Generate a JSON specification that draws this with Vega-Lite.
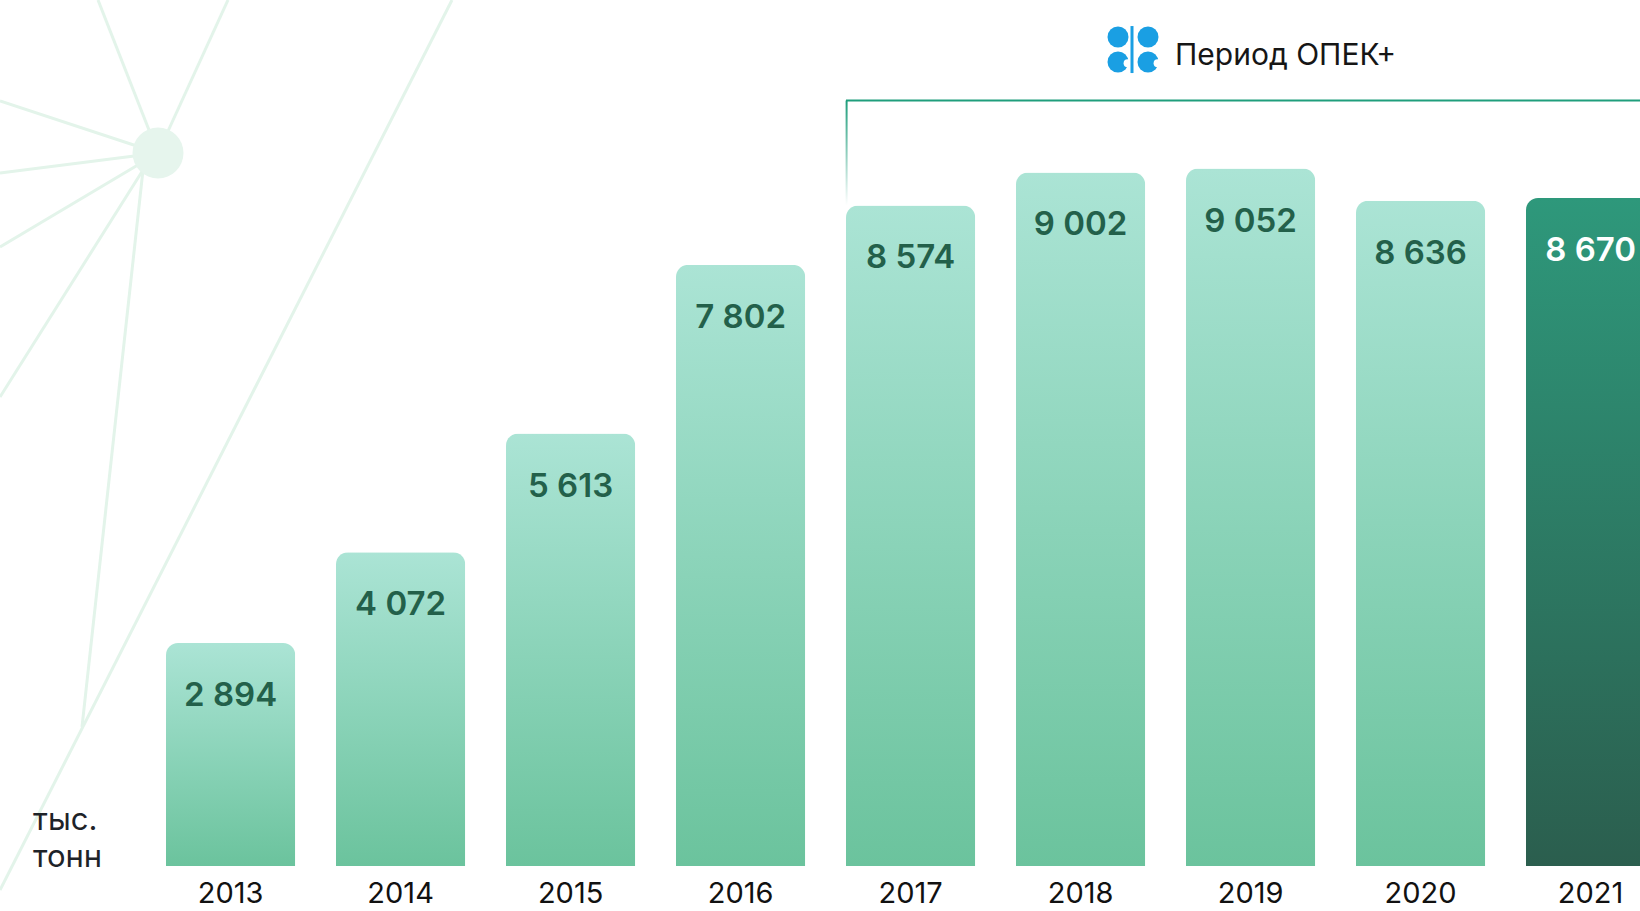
{
  "$schema": "https://vega.github.io/schema/vega-lite/v6.json",
  "width": 1640,
  "height": 866,
  "autosize": {"type": "none"},
  "padding": {"left": 0, "top": 0, "right": 0, "bottom": 45},
  "background": "white",
  "config": {
    "view": {"stroke": null},
    "font": "Inter",
    "locale": {"number": {"decimal": ",", "thousands": "\u00a0", "grouping": [3], "currency": ["", ""]}}
  },
  "datasets": {
    "bars": [
      {"year": "2013", "value": 2894},
      {"year": "2014", "value": 4072},
      {"year": "2015", "value": 5613},
      {"year": "2016", "value": 7802},
      {"year": "2017", "value": 8574},
      {"year": "2018", "value": 9002},
      {"year": "2019", "value": 9052},
      {"year": "2020", "value": 8636},
      {"year": "2021", "value": 8670}
    ],
    "decor": [
      {"seg": "a", "ord": 0, "bx": 98, "by": 0}, {"seg": "a", "ord": 1, "bx": 158, "by": 153},
      {"seg": "b", "ord": 0, "bx": 228, "by": 0}, {"seg": "b", "ord": 1, "bx": 158, "by": 153},
      {"seg": "c", "ord": 0, "bx": 0, "by": 101}, {"seg": "c", "ord": 1, "bx": 158, "by": 153},
      {"seg": "d", "ord": 0, "bx": 0, "by": 173}, {"seg": "d", "ord": 1, "bx": 158, "by": 153},
      {"seg": "e", "ord": 0, "bx": 0, "by": 247}, {"seg": "e", "ord": 1, "bx": 158, "by": 153},
      {"seg": "f", "ord": 0, "bx": 0, "by": 397}, {"seg": "f", "ord": 1, "bx": 143, "by": 170},
      {"seg": "g", "ord": 0, "bx": 82, "by": 727}, {"seg": "g", "ord": 1, "bx": 143, "by": 170},
      {"seg": "h", "ord": 0, "bx": 452, "by": 0}, {"seg": "h", "ord": 1, "bx": 0, "by": 890}
    ],
    "hub": [{"bx": 158, "by": 153}]
  },
  "resolve": {"scale": {"x": "independent", "y": "independent"}},
  "layer": [
    {
      "layer": [
        {
          "data": {"name": "decor"},
          "mark": {"type": "line", "stroke": "#e3f4ea", "strokeWidth": 3},
          "encoding": {
            "x": {"field": "bx", "type": "quantitative", "scale": {"domain": [0, 1640], "nice": false, "zero": false}, "axis": null},
            "y": {"field": "by", "type": "quantitative", "scale": {"domain": [0, 866], "nice": false, "zero": false, "reverse": true}, "axis": null},
            "detail": {"field": "seg"},
            "order": {"field": "ord"}
          }
        },
        {
          "data": {"name": "hub"},
          "mark": {"type": "point", "shape": "circle", "filled": true, "size": 2600, "color": "#e6f5ed", "opacity": 1},
          "encoding": {
            "x": {"field": "bx", "type": "quantitative"},
            "y": {"field": "by", "type": "quantitative"}
          }
        }
      ]
    },
    {
      "data": {"name": "bars"},
      "encoding": {
        "x": {
          "field": "year", "type": "nominal",
          "scale": {"range": [166, 1655.2], "paddingInner": 0.24, "paddingOuter": 0},
          "axis": {"orient": "bottom", "title": null, "ticks": false, "domain": false, "labelAngle": 0, "labelFontSize": 29, "labelColor": "#111111", "labelPadding": 13, "labelFont": "Inter", "labelOverlap": false}
        },
        "y": {"field": "value", "type": "quantitative", "scale": {"domain": [0, 11240], "nice": false}, "axis": null}
      },
      "layer": [
        {
          "transform": [{"filter": "datum.year !== '2021'"}],
          "mark": {
            "type": "bar", "cornerRadiusTopLeft": 12, "cornerRadiusTopRight": 12,
            "fill": {"gradient": "linear", "x1": 0, "y1": 0, "x2": 0, "y2": 1, "stops": [{"offset": 0, "color": "#abe4d5"}, {"offset": 1, "color": "#6bc39d"}]}
          }
        },
        {
          "transform": [{"filter": "datum.year === '2021'"}],
          "mark": {
            "type": "bar", "cornerRadiusTopLeft": 12, "cornerRadiusTopRight": 12,
            "fill": {"gradient": "linear", "x1": 0, "y1": 0, "x2": 0, "y2": 1, "stops": [{"offset": 0, "color": "#2e987b"}, {"offset": 1, "color": "#2b5e4e"}]}
          }
        },
        {
          "mark": {"type": "text", "baseline": "middle", "align": "center", "dy": 53, "fontSize": 33, "fontWeight": 600, "font": "Inter"},
          "encoding": {
            "text": {"field": "value", "type": "quantitative", "format": ",d"},
            "color": {"condition": {"test": "datum.year === '2021'", "value": "#ffffff"}, "value": "#23604a"}
          }
        },
        {
          "transform": [{"filter": "datum.year === '2017'"}],
          "mark": {
            "type": "bar", "width": 2, "xOffset": -64,
            "fill": {"gradient": "linear", "x1": 0, "y1": 0, "x2": 0, "y2": 1, "stops": [{"offset": 0, "color": "#1f9e7c"}, {"offset": 1, "color": "#ffffff"}]}
          },
          "encoding": {
            "y": {"datum": 9935},
            "y2": {"field": "value"}
          }
        },
        {
          "transform": [{"filter": "datum.year === '2017'"}],
          "mark": {"type": "rule", "stroke": "#1f9e7c", "strokeWidth": 2, "clip": true},
          "encoding": {
            "x": {"datum": "2017", "bandPosition": 0},
            "x2": {"datum": "2021", "bandPosition": 1},
            "y": {"datum": 9935}
          }
        },
        {
          "transform": [{"filter": "datum.year === '2018'"}],
          "mark": {"type": "point", "shape": "circle", "filled": true, "size": 441, "color": "#1a9fe3", "opacity": 1, "xOffset": 37.4},
          "encoding": {"x": {"datum": "2018"}, "y": {"datum": 10760}}
        },
        {
          "transform": [{"filter": "datum.year === '2018'"}],
          "mark": {"type": "point", "shape": "circle", "filled": true, "size": 441, "color": "#1a9fe3", "opacity": 1, "xOffset": 67.4},
          "encoding": {"x": {"datum": "2018"}, "y": {"datum": 10760}}
        },
        {
          "transform": [{"filter": "datum.year === '2018'"}],
          "mark": {"type": "point", "shape": "circle", "filled": true, "size": 441, "color": "#1a9fe3", "opacity": 1, "xOffset": 37.4},
          "encoding": {"x": {"datum": "2018"}, "y": {"datum": 10435}}
        },
        {
          "transform": [{"filter": "datum.year === '2018'"}],
          "mark": {"type": "point", "shape": "circle", "filled": true, "size": 441, "color": "#1a9fe3", "opacity": 1, "xOffset": 67.4},
          "encoding": {"x": {"datum": "2018"}, "y": {"datum": 10435}}
        },
        {
          "transform": [{"filter": "datum.year === '2018'"}],
          "mark": {"type": "point", "shape": "circle", "filled": true, "size": 64, "color": "#ffffff", "opacity": 1, "xOffset": 47},
          "encoding": {"x": {"datum": "2018"}, "y": {"datum": 10420}}
        },
        {
          "transform": [{"filter": "datum.year === '2018'"}],
          "mark": {"type": "point", "shape": "circle", "filled": true, "size": 64, "color": "#ffffff", "opacity": 1, "xOffset": 77},
          "encoding": {"x": {"datum": "2018"}, "y": {"datum": 10420}}
        },
        {
          "transform": [{"filter": "datum.year === '2018'"}],
          "mark": {"type": "rule", "stroke": "#1a9fe3", "strokeWidth": 3, "xOffset": 51.4},
          "encoding": {"x": {"datum": "2018"}, "y": {"datum": 10902}, "y2": {"datum": 10292}}
        },
        {
          "transform": [{"filter": "datum.year === '2018'"}],
          "mark": {"type": "text", "text": "Период ОПЕК+", "align": "left", "baseline": "alphabetic", "dx": 94.4, "fontSize": 30, "font": "Inter", "color": "#161616"},
          "encoding": {"x": {"datum": "2018"}, "y": {"datum": 10396}}
        },
        {
          "transform": [{"filter": "datum.year === '2013'"}],
          "mark": {"type": "text", "text": ["тыс.", "тонн"], "lineHeight": 37, "align": "left", "baseline": "alphabetic", "dx": -197.6, "fontSize": 31, "font": "Inter", "color": "#1e2328"},
          "encoding": {"x": {"datum": "2013"}, "y": {"datum": 467}}
        }
      ]
    }
  ]
}
